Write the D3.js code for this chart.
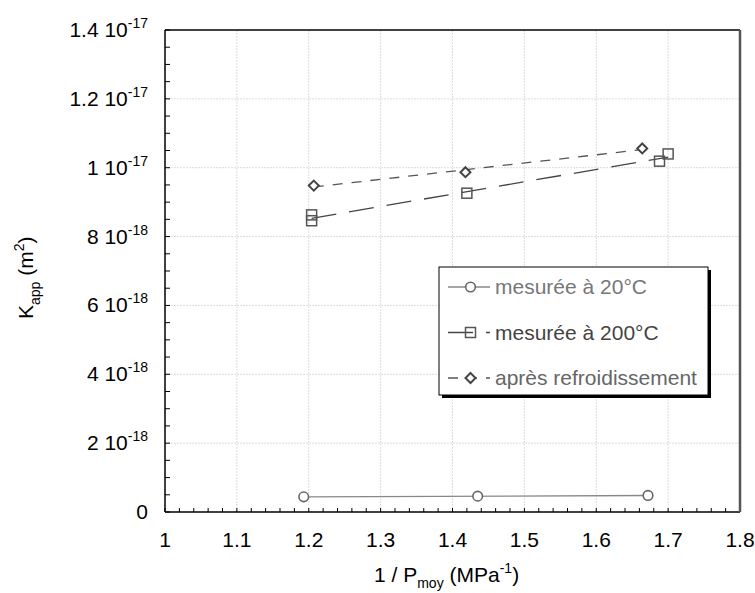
<!DOCTYPE html>
<html><head><meta charset="utf-8">
<script src="https://cdn.jsdelivr.net/npm/d3@7"></script>
<style>body{margin:0;background:#fff}text{font-family:"Liberation Sans",Arial,sans-serif}</style>
</head><body><svg id="c" width="755" height="593"></svg>
<script>
// ---- data ----
const s20x = [1.193, 1.435, 1.672];
const s20y = [4.4e-19, 4.6e-19, 4.8e-19];
const s200x = [1.204, 1.204, 1.420, 1.688, 1.700];
const s200y = [8.63e-18, 8.46e-18, 9.26e-18, 1.019e-17, 1.040e-17];
const sRefx = [1.207, 1.418, 1.664];
const sRefy = [9.48e-18, 9.87e-18, 1.056e-17];
const seriesNames = ["mesurée à 20°C", "mesurée à 200°C", "après refroidissement"];
const xTicks = [1, 1.1, 1.2, 1.3, 1.4, 1.5, 1.6, 1.7, 1.8];
const xTickLabels = ["1", "1.1", "1.2", "1.3", "1.4", "1.5", "1.6", "1.7", "1.8"];
const yTicks = [0, 2e-18, 4e-18, 6e-18, 8e-18, 1e-17, 1.2e-17, 1.4e-17];
const yTickMant = ["0", "2", "4", "6", "8", "1", "1.2", "1.4"];
const yTickExp = ["", "-18", "-18", "-18", "-18", "-17", "-17", "-17"];

const svg = d3.select("#c");
const X0 = 165, X1 = 740, Y0 = 512, Y1 = 30;
const FS = 21, SFS = 14;
const x = d3.scaleLinear().domain([1, 1.8]).range([X0, X1]);
const y = d3.scaleLinear().domain([0, 1.4e-17]).range([Y0, Y1]);

// grid
const g = svg.append("g");
g.selectAll(".gx").data(xTicks.slice(1, -1)).enter().append("line")
  .attr("x1", d => x(d)).attr("x2", d => x(d)).attr("y1", Y1).attr("y2", Y0)
  .attr("stroke", "#dcdcdc").attr("stroke-width", 1).attr("stroke-dasharray", "2,1");
g.selectAll(".gy").data(yTicks.slice(1, -1)).enter().append("line")
  .attr("y1", d => y(d)).attr("y2", d => y(d)).attr("x1", X0).attr("x2", X1)
  .attr("stroke", "#dcdcdc").attr("stroke-width", 1).attr("stroke-dasharray", "2,1");

// minor ticks
const xMinor = d3.range(0, 41).map(i => 1 + i * 0.02);
const yMinor = d3.range(0, 29).map(i => i * 5e-19);
svg.append("g").selectAll("line").data(xMinor).enter().append("line")
  .attr("x1", d => x(d)).attr("x2", d => x(d)).attr("y1", Y0).attr("y2", Y0 - 4)
  .attr("stroke", "#000").attr("stroke-width", 1);
svg.append("g").selectAll("line").data(yMinor).enter().append("line")
  .attr("y1", d => y(d)).attr("y2", d => y(d)).attr("x1", X0).attr("x2", X0 + 5)
  .attr("stroke", "#000").attr("stroke-width", 1);

// frame
svg.append("line").attr("x1", X0).attr("x2", X1).attr("y1", Y1).attr("y2", Y1).attr("stroke", "#000").attr("stroke-width", 1.5);
svg.append("line").attr("x1", X0).attr("x2", X1).attr("y1", Y0).attr("y2", Y0).attr("stroke", "#000").attr("stroke-width", 1.5);
svg.append("line").attr("x1", X0).attr("x2", X0).attr("y1", Y1).attr("y2", Y0).attr("stroke", "#000").attr("stroke-width", 1.5);
svg.append("line").attr("x1", X1).attr("x2", X1).attr("y1", Y1).attr("y2", Y0).attr("stroke", "#555").attr("stroke-width", 2.5);

// tick labels
svg.append("g").selectAll("text").data(xTicks).enter().append("text")
  .attr("x", d => x(d)).attr("y", Y0 + 35).attr("text-anchor", "middle")
  .attr("font-size", FS).attr("fill", "#000").text((d, i) => xTickLabels[i]);
const yl = svg.append("g").selectAll("text").data(yTicks).enter().append("text")
  .attr("x", 148).attr("y", d => y(d) + 7).attr("text-anchor", "end")
  .attr("font-size", FS).attr("fill", "#000");
yl.each(function (d, i) {
  const t = d3.select(this);
  if (yTickExp[i] === "") { t.text(yTickMant[i]); return; }
  t.append("tspan").text(yTickMant[i] + " 10");
  t.append("tspan").attr("font-size", SFS).attr("dy", -9).text(yTickExp[i]);
});

// axis titles
const xt = svg.append("text").attr("x", 374).attr("y", 582).attr("font-size", FS).attr("fill", "#000");
xt.append("tspan").text("1 / P");
xt.append("tspan").attr("font-size", SFS).attr("dy", 6).text("moy");
xt.append("tspan").attr("dy", -6).text(" (MPa");
xt.append("tspan").attr("font-size", SFS).attr("dy", -9).text("-1");
xt.append("tspan").attr("dy", 9).text(")");

const yt = svg.append("text").attr("transform", "translate(33,319) rotate(-90)").attr("font-size", FS).attr("fill", "#000");
yt.append("tspan").text("K");
yt.append("tspan").attr("font-size", SFS).attr("dy", 7).text("app");
yt.append("tspan").attr("dy", -7).text(" (m");
yt.append("tspan").attr("font-size", SFS).attr("dy", -9).text("2");
yt.append("tspan").attr("dy", 9).text(")");

// regression helper
function fit(xs, ys) {
  const mx = d3.mean(xs), my = d3.mean(ys);
  let sxx = 0, sxy = 0;
  xs.forEach((v, i) => { sxx += (v - mx) ** 2; sxy += (v - mx) * (ys[i] - my); });
  const b = sxy / sxx, a = my - b * mx;
  const lo = d3.min(xs), hi = d3.max(xs);
  return [[lo, a + b * lo], [hi, a + b * hi]];
}
const line = d3.line().x(d => x(d[0])).y(d => y(d[1]));

const series = [
  { xs: s20x, ys: s20y, stroke: "#888", dash: null, marker: "circle" },
  { xs: s200x, ys: s200y, stroke: "#444", dash: "25,13", marker: "square" },
  { xs: sRefx, ys: sRefy, stroke: "#555", dash: "10,9", marker: "diamond" }
];
function drawMarker(sel, type, cx, cy) {
  if (type === "circle") sel.append("circle").attr("cx", cx).attr("cy", cy).attr("r", 4.8)
    .attr("fill", "#fff").attr("stroke", "#666").attr("stroke-width", 1.6);
  else if (type === "square") sel.append("rect").attr("x", cx - 5).attr("y", cy - 5).attr("width", 10).attr("height", 10)
    .attr("fill", "none").attr("stroke", "#555").attr("stroke-width", 1.5);
  else sel.append("path").attr("d", `M${cx},${cy - 5}L${cx + 5},${cy}L${cx},${cy + 5}L${cx - 5},${cy}Z`)
    .attr("fill", "#fff").attr("stroke", "#444").attr("stroke-width", 2);
}
series.forEach(s => {
  svg.append("path").datum(fit(s.xs, s.ys)).attr("d", line).attr("fill", "none")
    .attr("stroke", s.stroke).attr("stroke-width", 1.3).attr("stroke-dasharray", s.dash);
  const mg = svg.append("g");
  s.xs.forEach((v, i) => drawMarker(mg, s.marker, x(v), y(s.ys[i])));
});

// legend
const L = { x: 439, y: 267, w: 269, h: 128 };
svg.append("rect").attr("x", L.x + 3).attr("y", L.y + 3).attr("width", L.w).attr("height", L.h).attr("fill", "#000");
svg.append("rect").attr("x", L.x).attr("y", L.y).attr("width", L.w).attr("height", L.h).attr("fill", "#fff").attr("stroke", "#000").attr("stroke-width", 1);
const textCols = ["#777", "#444", "#666"];
series.forEach((s, i) => {
  const cy = L.y + 20 + i * 45.5;
  svg.append("line").attr("x1", 448).attr("x2", 490).attr("y1", cy).attr("y2", cy)
    .attr("stroke", s.stroke).attr("stroke-width", 1.3).attr("stroke-dasharray", s.dash);
  drawMarker(svg, s.marker, 470.5, cy);
  svg.append("text").attr("x", 495).attr("y", cy + 7).attr("font-size", FS).attr("fill", textCols[i]).text(seriesNames[i]);
});
</script></body></html>
